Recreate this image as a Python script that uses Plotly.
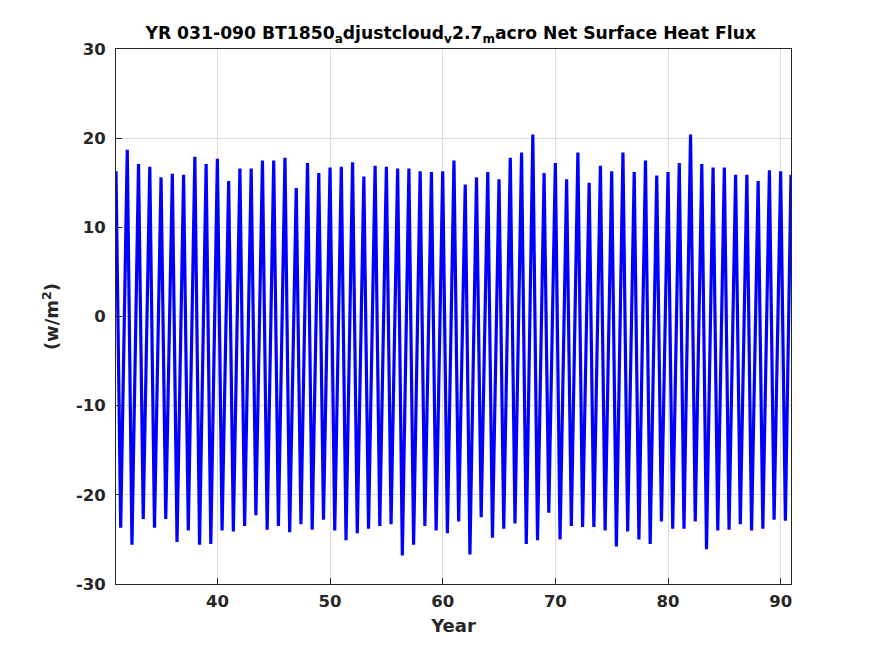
import plotly.graph_objects as go

years = list(range(31, 91))
peak_vals = [16.3, 18.7, 17.1, 16.8, 15.6, 16.0, 15.9, 17.9, 17.1, 17.7,
             15.2, 16.6, 16.6, 17.5, 17.5, 17.8, 14.4, 17.2, 16.1, 16.7,
             16.8, 17.3, 15.7, 16.9, 16.8, 16.6, 16.6, 16.3, 16.2, 16.3,
             17.5, 14.8, 15.6, 16.2, 15.4, 17.8, 18.4, 20.4, 16.1, 17.2,
             15.4, 18.4, 15.0, 16.9, 16.3, 18.4, 16.2, 17.5, 15.8, 16.2,
             17.2, 20.4, 17.1, 16.7, 16.7, 15.9, 15.9, 15.2, 16.4, 16.3]
trough_vals = [-23.7, -25.6, -22.7, -23.7, -22.7, -25.3, -24.0, -25.6, -25.5, -24.0,
               -24.1, -23.5, -22.3, -23.9, -23.5, -24.2, -23.3, -23.9, -22.8, -24.0,
               -25.1, -24.3, -23.8, -23.5, -23.3, -26.8, -25.6, -23.5, -24.0, -24.3,
               -23.0, -26.7, -22.5, -24.8, -23.8, -23.2, -25.5, -25.1, -22.0, -25.0,
               -23.5, -23.6, -23.6, -24.0, -25.8, -24.1, -25.0, -25.5, -23.0, -23.8,
               -23.8, -23.0, -26.1, -24.0, -23.9, -23.3, -24.0, -23.8, -22.8, -22.9]
peak_month = 0      # January
trough_month = 5    # June
end_month = 11      # December of last year
end_value = 15.9

x_ticks = [40, 50, 60, 70, 80, 90]
x_tick_text = ["40", "50", "60", "70", "80", "90"]
y_ticks = [-30, -20, -10, 0, 10, 20, 30]
y_tick_text = ["-30", "-20", "-10", "0", "10", "20", "30"]

xs, ys = [], []
for yr, p, t in zip(years, peak_vals, trough_vals):
    xs.append(yr + peak_month / 12)
    ys.append(p)
    xs.append(yr + trough_month / 12)
    ys.append(t)
xs.append(years[-1] + end_month / 12)
ys.append(end_value)

ink = "#262626"
fig = go.Figure()
fig.add_trace(go.Scatter(x=xs, y=ys, mode="lines",
                         line=dict(color="#0000ff", width=3.2),
                         showlegend=False, hoverinfo="skip"))

axis_common = dict(showline=True, linecolor=ink, linewidth=1, mirror=True,
                   ticks="inside", ticklen=6, tickcolor=ink,
                   showgrid=True, gridcolor="#dcdcdc", gridwidth=1,
                   zeroline=False,
                   tickfont=dict(family="DejaVu Sans", size=16.5, color=ink, weight="bold"))

fig.update_layout(
    width=875, height=656,
    paper_bgcolor="white", plot_bgcolor="white",
    margin=dict(l=108, r=92, t=41, b=80),
    title=dict(text="YR 031-090 BT1850<sub>a</sub>djustcloud<sub>v</sub>2.7<sub>m</sub>acro Net Surface Heat Flux",
               x=0.506, xanchor="center", y=0.962, yanchor="middle",
               font=dict(family="DejaVu Sans", size=17.2, color="black", weight="bold")),
    xaxis=dict(range=[31, 90 + 11 / 12], tickvals=x_ticks, ticktext=x_tick_text,
               ticklabelstandoff=2,
               title=dict(text="Year", standoff=9,
                          font=dict(family="DejaVu Sans", size=18, color=ink, weight="bold")),
               **axis_common),
    yaxis=dict(range=[-30, 30], tickvals=y_ticks, ticktext=y_tick_text,
               ticklabelstandoff=6,
               title=dict(text="(w/m<sup>2</sup>)", standoff=12,
                          font=dict(family="DejaVu Sans", size=18, color=ink, weight="bold")),
               **axis_common),
)

fig.write_html("out.html")
